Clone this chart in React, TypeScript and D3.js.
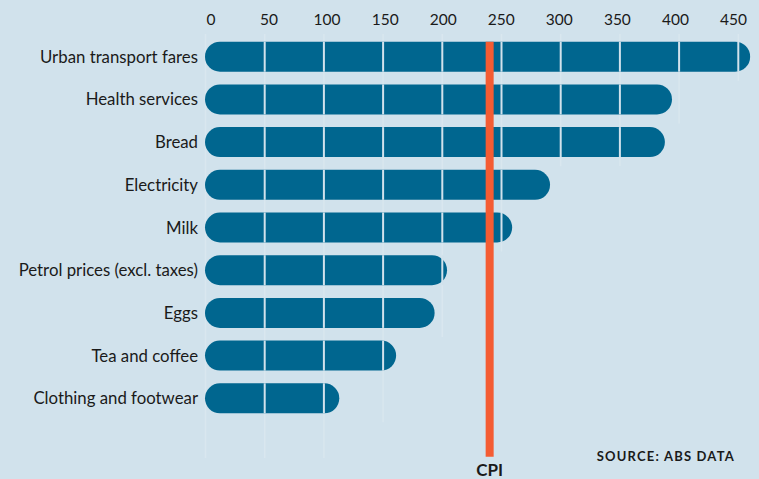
import React from "react";
import * as d3 from "d3";

const categories = [
  "Urban transport fares",
  "Health services",
  "Bread",
  "Electricity",
  "Milk",
  "Petrol prices (excl. taxes)",
  "Eggs",
  "Tea and coffee",
  "Clothing and footwear",
];
const values = [460, 394, 388, 291, 259, 204, 193.5, 161, 113];
const tickValues = [0, 50, 100, 150, 200, 250, 300, 350, 400, 450];
// category row through which each grid line runs (null = full length)
const gridStops: (string | null)[] = [
  null,
  null,
  null,
  "Clothing and footwear",
  "Eggs",
  "Milk",
  "Bread",
  "Bread",
  "Health services",
  "Urban transport fares",
];
const cpiValue = 240;
const cpiLabel = "CPI";
const sourceLabel = "SOURCE: ABS DATA";

const W = 759;
const H = 479;
const BG = "#d1e2ec";
const BAR = "#00668f";
const CPI_COLOR = "#f45c33";
const TEXT = "#1a1a1a";
const FONT = "Lato, 'Open Sans', sans-serif";

export default function App() {
  const x = d3.scaleLinear().domain([0, 450]).range([205.5, 738.3]);
  const xLabel = d3.scaleLinear().domain([0, 450]).range([211, 733.5]);
  const y = d3
    .scaleBand<string>()
    .domain(categories)
    .range([41.7, 413.3])
    .paddingInner(0.297)
    .paddingOuter(0);
  const bw = y.bandwidth();
  const gridTop = 34;
  const gridBottom = 458;

  return (
    <svg
      width={W}
      height={H}
      style={{ position: "absolute", left: 0, top: 0, display: "block" }}
    >
      <rect x={0} y={0} width={W} height={H} fill={BG} />
      {/* faint grid lines */}
      {tickValues.map((t, i) => {
        const stop = gridStops[i];
        const yEnd = stop == null ? gridBottom : (y(stop) as number) + bw + 9;
        return (
          <line
            key={"g" + t}
            x1={x(t)}
            x2={x(t)}
            y1={gridTop}
            y2={yEnd}
            stroke="#d9e7ef"
            strokeWidth={1.5}
          />
        );
      })}
      {/* tick labels */}
      {tickValues.map((t) => (
        <text
          key={"t" + t}
          x={xLabel(t)}
          y={25}
          textAnchor="middle"
          fontFamily={FONT}
          fontSize={15.5}
          fill={TEXT}
        >
          {t}
        </text>
      ))}
      {/* bars */}
      {categories.map((c, i) => {
        const y0 = y(c) as number;
        return (
          <g key={c}>
            <rect
              x={x(0) - 0.5}
              y={y0}
              width={x(values[i]) - x(0) + 0.5}
              height={bw}
              rx={bw / 2}
              ry={bw / 2}
              fill={BAR}
            />
            {tickValues
              .filter((t) => t > 0 && t < values[i])
              .map((t) => (
                <line
                  key={t}
                  x1={x(t)}
                  x2={x(t)}
                  y1={y0}
                  y2={y0 + bw}
                  stroke={BG}
                  strokeWidth={2}
                />
              ))}
            <text
              x={198}
              y={y0 + bw / 2 + 6}
              textAnchor="end"
              fontFamily={FONT}
              fontSize={16.8}
              fill={TEXT}
            >
              {c}
            </text>
          </g>
        );
      })}
      {/* CPI line */}
      <line
        x1={x(cpiValue)}
        x2={x(cpiValue)}
        y1={y(categories[0]) as number}
        y2={456.7}
        stroke={CPI_COLOR}
        strokeWidth={8}
      />
      <text
        x={x(cpiValue)}
        y={476}
        textAnchor="middle"
        fontFamily={FONT}
        fontWeight="bold"
        fontSize={17}
        fill={TEXT}
      >
        {cpiLabel}
      </text>
      <text
        x={735}
        y={461}
        textAnchor="end"
        fontFamily={FONT}
        fontWeight="bold"
        fontSize={13}
        letterSpacing={1.2}
        fill={TEXT}
      >
        {sourceLabel}
      </text>
    </svg>
  );
}
